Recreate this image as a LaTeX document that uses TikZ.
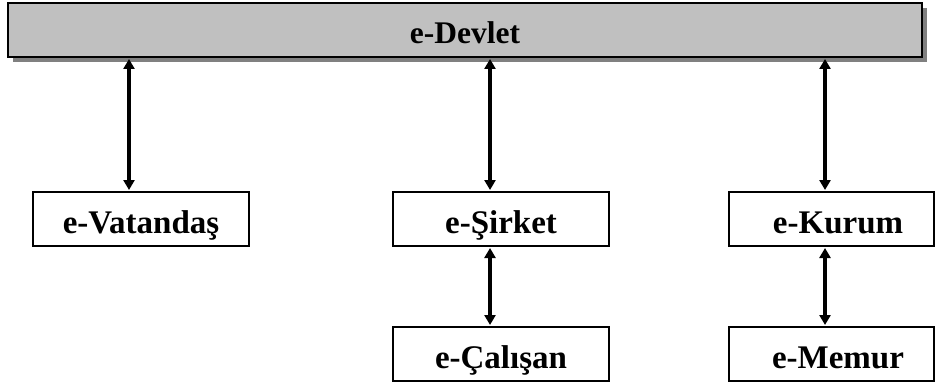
\documentclass[tikz,border=0pt]{standalone}
\usepackage{fontspec}
\setmainfont{Liberation Serif}
\usetikzlibrary{arrows.meta,shadows}
\definecolor{barfill}{HTML}{C0C0C0}
\definecolor{barshadow}{HTML}{808080}
\begin{document}
\begin{tikzpicture}[x=1pt,y=-1pt,
  box/.style={draw=black,line width=2pt,fill=white,minimum height=54pt,inner sep=0pt,
    text height=32pt,text depth=4pt,
    font=\fontsize{33}{36}\selectfont\bfseries},
  topbar/.style={draw=black,line width=2pt,fill=barfill,minimum width=914pt,minimum height=54pt,inner sep=0pt,
    text height=32pt,text depth=4pt,
    font=\fontsize{31.5}{36}\selectfont\bfseries,
    drop shadow={shadow xshift=5pt,shadow yshift=-5pt,fill=barshadow,opacity=1}},
  arr/.style={line width=3.4pt,{Triangle[length=10pt,width=11pt]}-{Triangle[length=10pt,width=11pt]},shorten <=1pt,shorten >=1pt}]
\useasboundingbox (0,0) rectangle (936,385);
\node[topbar] (devlet) at (465,30) {e-Devlet};
\node[box,minimum width=216pt] (vat) at (141,219) {e-Vatandaş};
\node[box,minimum width=216pt] (sir) at (501,219) {e-Şirket};
\node[box,minimum width=216pt] (cal) at (501,354) {e-Çalışan};
\node[box,minimum width=205pt] (kur) at (831.5,219) {\hspace*{13pt}e-Kurum};
\node[box,minimum width=205pt] (mem) at (831.5,354) {\hspace*{13pt}e-Memur};
\coordinate (c1) at (129,0);
\coordinate (c2) at (490,0);
\coordinate (c3) at (825,0);
\draw[arr] (c1 |- devlet.south) -- (c1 |- vat.north);
\draw[arr] (c2 |- devlet.south) -- (c2 |- sir.north);
\draw[arr] (c3 |- devlet.south) -- (c3 |- kur.north);
\draw[arr] (c2 |- sir.south) -- (c2 |- cal.north);
\draw[arr] (c3 |- kur.south) -- (c3 |- mem.north);
\end{tikzpicture}
\end{document}
